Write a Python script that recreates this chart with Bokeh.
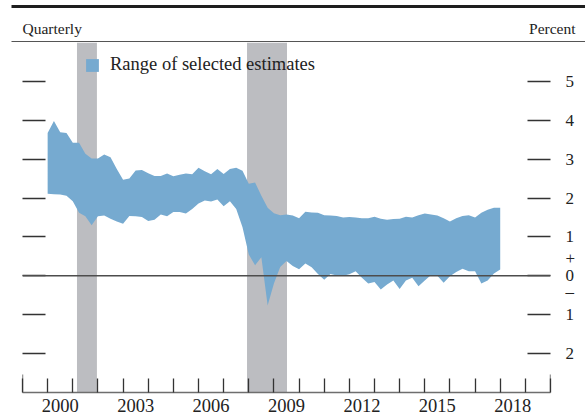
from bokeh.plotting import figure
from bokeh.models import (FixedTicker, LinearAxis, Range1d, Span, Legend, LegendItem,
                          ColumnDataSource)
from bokeh.layouts import column, row
from bokeh.core.properties import value
from bokeh.embed import file_html
from bokeh.resources import INLINE

# ---------------- data ----------------
start_year = 2000  # first quarter: 2000 Q1, quarterly through 2018 Q1
upper = [3.67, 3.98, 3.69, 3.67, 3.42, 3.42, 3.14, 3.02, 3.02, 3.12,
         3.05, 2.75, 2.47, 2.50, 2.71, 2.72, 2.64, 2.57, 2.57, 2.63,
         2.56, 2.60, 2.63, 2.61, 2.78, 2.69, 2.61, 2.75, 2.62, 2.75,
         2.78, 2.70, 2.37, 2.40, 2.06, 1.75, 1.61, 1.56, 1.58, 1.55,
         1.48, 1.65, 1.63, 1.62, 1.56, 1.55, 1.54, 1.50, 1.51, 1.50,
         1.48, 1.48, 1.52, 1.47, 1.44, 1.46, 1.47, 1.52, 1.50, 1.56,
         1.60, 1.58, 1.55, 1.48, 1.40, 1.48, 1.54, 1.56, 1.50, 1.62,
         1.70, 1.75, 1.75]
lower = [2.11, 2.10, 2.09, 2.06, 1.92, 1.62, 1.53, 1.30, 1.53, 1.55,
         1.47, 1.40, 1.34, 1.54, 1.53, 1.51, 1.41, 1.44, 1.58, 1.53,
         1.64, 1.64, 1.60, 1.72, 1.86, 1.94, 1.91, 1.96, 1.79, 1.92,
         1.72, 1.25, 0.55, 0.27, 0.48, -0.76, -0.20, 0.23, 0.38, 0.25,
         0.17, 0.32, 0.22, 0.05, -0.10, 0.05, 0.01, 0.00, 0.04, 0.12,
         -0.05, -0.20, -0.16, -0.35, -0.22, -0.12, -0.34, -0.12, -0.05, -0.27,
         -0.12, 0.02, 0.00, -0.18, -0.01, 0.10, 0.18, 0.12, 0.12, -0.20,
         -0.12, 0.06, 0.16]
dates = [start_year + i / 4 for i in range(len(upper))]

rec_start = [2001.167, 2007.93]
rec_end = [2001.96, 2009.52]

year_ticks = list(range(1999, 2021))
year_labels = [2000, 2003, 2006, 2009, 2012, 2015, 2018]
y_ticks = [-2, -1, 0, 1, 2, 3, 4, 5]
y_tick_labels = ["2", "1", "0", "1", "2", "3", "4", "5"]
sign_pos = [0.45, -0.40]
sign_labels = ["+", "\u2013"]

FONT = "Liberation Serif"
TXT = "#222222"
BAND = "#76aad0"
REC = "#bcbdc1"
TICK = "#333333"

# ---------------- header strip ----------------
hdr = figure(width=585, height=42, output_backend="svg", toolbar_location=None,
             x_range=Range1d(0, 585), y_range=Range1d(42, 0),
             min_border_left=0, min_border_right=0, min_border_top=0,
             min_border_bottom=0, x_axis_type=None, y_axis_type=None)
hdr.title.visible = False
hdr.outline_line_color = None
hdr.grid.visible = False
hdr.segment(x0=[11], y0=[6], x1=[585], y1=[6], line_color="#1e1e1e", line_width=3)
hdr.segment(x0=[11], y0=[41.3], x1=[585], y1=[41.3], line_color="#555555", line_width=1.4)
hdr.text(x=[22], y=[27.5], text=["Quarterly"], text_font=value(FONT),
         text_font_size="15.5px", text_color=TXT, text_align="left",
         text_baseline="middle")
hdr.text(x=[575], y=[27.5], text=["Percent"], text_font=value(FONT),
         text_font_size="15.5px", text_color=TXT, text_align="right",
         text_baseline="middle")

# ---------------- main chart ----------------
fig = figure(width=585, height=375, output_backend="svg", toolbar_location=None,
             x_range=Range1d(1999, 2020), y_range=Range1d(-3, 6),
             min_border_left=22, min_border_right=35, min_border_top=0,
             min_border_bottom=25, x_axis_type=None, y_axis_type=None)
fig.title.visible = False
fig.outline_line_color = None
fig.grid.visible = False

# recession bars
fig.quad(left=rec_start, right=rec_end, top=6, bottom=-3,
         fill_color=REC, line_color=None)

# band of estimates
src = ColumnDataSource(dict(x=dates, lo=lower, hi=upper))
band = fig.varea(x="x", y1="lo", y2="hi", source=src, fill_color=BAND)

# zero line
fig.add_layout(Span(location=0, dimension="width", line_color="#4d4d4d", line_width=1.5))

# taller end ticks on the time axis
fig.segment(x0=[year_ticks[0], year_ticks[-1]], y0=[-3, -3],
            x1=[year_ticks[0], year_ticks[-1]], y1=[-2.54, -2.54],
            line_color=TICK, line_width=1.3)

# left axis: tick marks only
la = LinearAxis(ticker=FixedTicker(ticks=[], minor_ticks=y_ticks))
la.axis_line_color = None
la.minor_tick_in = 23
la.minor_tick_out = 0
la.minor_tick_line_color = TICK
la.minor_tick_line_width = 1.3
fig.add_layout(la, "left")

# right axis: tick marks + labels (with + / – signs around zero)
ra = LinearAxis(ticker=FixedTicker(ticks=y_ticks + sign_pos, minor_ticks=y_ticks))
ra.axis_line_color = None
ra.major_tick_line_color = None
ra.major_tick_in = 0
ra.major_tick_out = 0
ra.minor_tick_in = 23
ra.minor_tick_out = 0
ra.minor_tick_line_color = TICK
ra.minor_tick_line_width = 1.3
ra.major_label_standoff = 15
ov = {t: s for t, s in zip(y_ticks, y_tick_labels)}
ov.update({t: s for t, s in zip(sign_pos, sign_labels)})
ra.major_label_overrides = ov
ra.major_label_text_font = FONT
ra.major_label_text_font_size = "17px"
ra.major_label_text_color = TXT
fig.add_layout(ra, "right")

# bottom axis: labels at mid-year, tick marks at year boundaries
ba = LinearAxis(ticker=FixedTicker(ticks=[y + 0.5 for y in year_labels],
                                   minor_ticks=year_ticks))
ba.axis_line_color = "#6e6e6e"
ba.axis_line_width = 1.6
ba.major_tick_line_color = None
ba.major_tick_in = 0
ba.major_tick_out = 0
ba.minor_tick_in = 14
ba.minor_tick_out = 0
ba.minor_tick_line_color = TICK
ba.minor_tick_line_width = 1.3
ba.major_label_overrides = {y + 0.5: str(y) for y in year_labels}
ba.major_label_standoff = 6
ba.major_label_text_font = FONT
ba.major_label_text_font_size = "18.5px"
ba.major_label_text_color = TXT
fig.add_layout(ba, "below")

# legend
leg = Legend(items=[LegendItem(label="Range of selected estimates", renderers=[band])],
             location=(62, 317), orientation="vertical")
leg.background_fill_alpha = 0
leg.border_line_color = None
leg.padding = 0
leg.margin = 0
leg.glyph_width = 16
leg.glyph_height = 16
leg.label_height = 16
leg.label_standoff = 10
leg.label_text_font = FONT
leg.label_text_font_size = "18.5px"
leg.label_text_color = TXT
fig.add_layout(leg, "center")

p = column(row(hdr), fig, spacing=0)
open("out.html", "w").write(file_html(p, INLINE))
